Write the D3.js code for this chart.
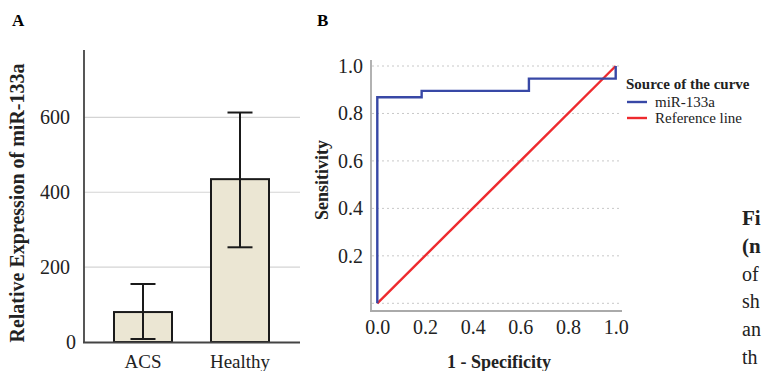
<!DOCTYPE html>
<html>
<head>
<meta charset="utf-8">
<script src="https://cdn.jsdelivr.net/npm/d3@7"></script>
<style>
  body { margin: 0; background: #fff; }
  svg text { font-family: "Liberation Serif", "Times New Roman", serif; }
</style>
</head>
<body>
<div id="chart"></div>
<script>
// panel A: bar chart with error bars
var groups = ["ACS", "Healthy"];
var means = [80, 435];
var errLow = [8, 253];
var errHigh = [155, 613];
var yTicksA = [0, 200, 400, 600];

// panel B: ROC curve
var rocFpr = [0, 0, 0.186, 0.186, 0.636, 0.636, 1, 1];
var rocTpr = [0, 0.868, 0.868, 0.895, 0.895, 0.947, 0.947, 1];
var refFpr = [0, 1];
var refTpr = [0, 1];
var rocTicks = [0, 0.2, 0.4, 0.6, 0.8, 1.0];
var legendLabels = ["miR-133a", "Reference line"];
var legendColors = ["#3848a6", "#ee2a2e"];

var FONT = "'Liberation Serif', 'Times New Roman', serif";

var svg = d3.select("#chart")
    .append("svg")
    .attr("width", 763)
    .attr("height", 371)
    .attr("font-family", FONT);

// ---------- Panel A ----------
svg.append("text").attr("x", 12).attr("y", 26)
    .style("font-weight", "bold").style("font-size", "17px").text("A");

var yA = d3.scaleLinear().domain([0, 780]).range([342, 50]);
var xA = d3.scaleBand().domain(groups).range([94.5, 288.5])
    .paddingInner(0.402).paddingOuter(0.201);

// gridlines
svg.append("g").selectAll("line")
    .data(yTicksA.filter(d => d > 0))
    .enter().append("line")
    .attr("x1", 84).attr("x2", 300)
    .attr("y1", d => yA(d)).attr("y2", d => yA(d))
    .attr("stroke", "#d4d4d4").attr("stroke-width", 1.2);

// y axis
var axA = svg.append("g")
    .attr("transform", "translate(84,0)")
    .call(d3.axisLeft(yA).tickValues(yTicksA).tickSize(0).tickPadding(14))
    .attr("font-family", FONT).attr("font-size", 20);
axA.select(".domain").remove();
axA.selectAll("text").attr("fill", "#222");
axA.selectAll(".tick").filter(d => d === 0).select("text").attr("x", -8);

svg.append("line").attr("x1", 84).attr("x2", 84).attr("y1", 50).attr("y2", 343)
    .attr("stroke", "#444").attr("stroke-width", 1.8);

// bars
var idx = d3.range(groups.length);
svg.append("g").selectAll("rect")
    .data(idx).enter().append("rect")
    .attr("x", i => xA(groups[i]))
    .attr("y", i => yA(means[i]))
    .attr("width", xA.bandwidth())
    .attr("height", i => yA(0) - yA(means[i]))
    .attr("fill", "#ebe6d3")
    .attr("stroke", "#1a1a1a").attr("stroke-width", 2);

// error bars
var eb = svg.append("g").attr("stroke", "#1a1a1a").attr("stroke-width", 2);
idx.forEach(function(i) {
  var cx = xA(groups[i]) + xA.bandwidth() / 2;
  eb.append("line").attr("x1", cx).attr("x2", cx)
      .attr("y1", yA(errHigh[i])).attr("y2", yA(errLow[i]));
  eb.append("line").attr("x1", cx - 12.5).attr("x2", cx + 12.5)
      .attr("y1", yA(errHigh[i])).attr("y2", yA(errHigh[i]));
  eb.append("line").attr("x1", cx - 12.5).attr("x2", cx + 12.5)
      .attr("y1", yA(errLow[i])).attr("y2", yA(errLow[i]));
});

// x axis line
svg.append("line").attr("x1", 83).attr("x2", 300).attr("y1", 342.5).attr("y2", 342.5)
    .attr("stroke", "#444").attr("stroke-width", 1.8);

svg.append("g").selectAll("text")
    .data(groups).enter().append("text")
    .attr("x", d => xA(d) + xA.bandwidth() / 2)
    .attr("y", 368)
    .attr("text-anchor", "middle")
    .style("font-size", "19px").attr("fill", "#222")
    .text(d => d);

svg.append("text")
    .attr("transform", "translate(24,203) rotate(-90)")
    .attr("text-anchor", "middle")
    .style("font-weight", "bold").style("font-size", "20px").attr("fill", "#222")
    .text("Relative Expression of miR-133a");

// ---------- Panel B ----------
svg.append("text").attr("x", 317).attr("y", 26)
    .style("font-weight", "bold").style("font-size", "17px").text("B");

var xB = d3.scaleLinear().domain([0, 1]).range([377.3, 615.7]);
var yB = d3.scaleLinear().domain([0, 1]).range([303.3, 66]);

// dotted gridlines
svg.append("g").selectAll("line")
    .data(rocTicks).enter().append("line")
    .attr("x1", 372).attr("x2", 620)
    .attr("y1", d => yB(d)).attr("y2", d => yB(d))
    .attr("stroke", "#c8c8c8").attr("stroke-width", 1)
    .attr("stroke-dasharray", "2,3");

// axes
var axBy = svg.append("g")
    .attr("transform", "translate(371,0)")
    .call(d3.axisLeft(yB).tickValues(rocTicks.filter(d => d > 0))
        .tickFormat(d3.format(".1f")).tickSize(0).tickPadding(8))
    .attr("font-family", FONT).attr("font-size", 20);
axBy.select(".domain").remove();
axBy.selectAll("text").attr("fill", "#222");

var axBx = svg.append("g")
    .attr("transform", "translate(0,311)")
    .call(d3.axisBottom(xB).tickValues(rocTicks)
        .tickFormat(d3.format(".1f")).tickSize(0).tickPadding(9))
    .attr("font-family", FONT).attr("font-size", 20);
axBx.select(".domain").remove();
axBx.selectAll("text").attr("fill", "#222");

svg.append("line").attr("x1", 371).attr("x2", 371).attr("y1", 60).attr("y2", 311)
    .attr("stroke", "#aaa").attr("stroke-width", 1.8);
svg.append("line").attr("x1", 370).attr("x2", 622).attr("y1", 311).attr("y2", 311)
    .attr("stroke", "#aaa").attr("stroke-width", 1.8);

var lineB = d3.line().x(d => xB(d[0])).y(d => yB(d[1]));

svg.append("path")
    .datum(d3.zip(refFpr, refTpr))
    .attr("d", lineB)
    .attr("fill", "none").attr("stroke", legendColors[1]).attr("stroke-width", 2.4);

svg.append("path")
    .datum(d3.zip(rocFpr, rocTpr))
    .attr("d", lineB)
    .attr("fill", "none").attr("stroke", legendColors[0]).attr("stroke-width", 2.4);

svg.append("text")
    .attr("transform", "translate(328,180) rotate(-90)")
    .attr("text-anchor", "middle")
    .style("font-weight", "bold").style("font-size", "18px").attr("fill", "#222")
    .text("Sensitivity");

svg.append("text")
    .attr("x", 499).attr("y", 368)
    .attr("text-anchor", "middle")
    .style("font-weight", "bold").style("font-size", "18px").attr("fill", "#222")
    .text("1 - Specificity");

// legend
svg.append("text").attr("x", 626).attr("y", 89)
    .style("font-weight", "bold").style("font-size", "15px").attr("fill", "#222")
    .text("Source of the curve");
var leg = svg.append("g").selectAll("g")
    .data(legendLabels).enter().append("g")
    .attr("transform", (d, i) => "translate(627," + (102 + i * 16) + ")");
leg.append("line").attr("x1", 0).attr("x2", 20)
    .attr("stroke", (d, i) => legendColors[i]).attr("stroke-width", 2.4);
leg.append("text").attr("x", 28).attr("y", 5)
    .style("font-size", "15px").attr("fill", "#222").text(d => d);

// cut-off caption text at right edge
var captionLines = [["Fi", true], ["(n", true], ["of", false], ["sh", false], ["an", false], ["th", false]];
svg.append("g").selectAll("text")
    .data(captionLines).enter().append("text")
    .attr("x", 742).attr("y", (d, i) => 225 + i * 27.8)
    .style("font-size", d => d[1] ? "21px" : "20px")
    .style("font-weight", d => d[1] ? "bold" : "normal")
    .attr("fill", "#222")
    .text(d => d[0]);
</script>
</body>
</html>
